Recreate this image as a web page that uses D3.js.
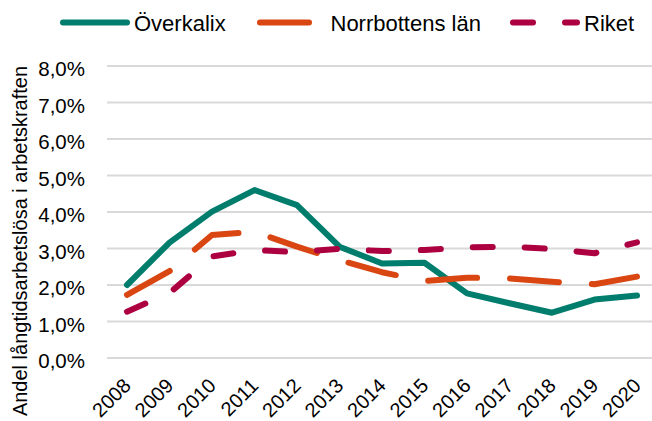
<!DOCTYPE html>
<html>
<head>
<meta charset="utf-8">
<script src="https://cdn.jsdelivr.net/npm/d3@7/dist/d3.min.js"></script>
<style>
  html, body { margin: 0; padding: 0; background: #fff; }
  svg { display: block; font-family: "Liberation Sans", Arial, sans-serif; }
</style>
</head>
<body>
<svg id="chart" width="652" height="421"></svg>
<script>
// ---- data ----
const years = ["2008","2009","2010","2011","2012","2013","2014","2015","2016","2017","2018","2019","2020"];
const overkalix = [2.00, 3.16, 4.01, 4.60, 4.19, 3.05, 2.59, 2.61, 1.77, 1.50, 1.24, 1.60, 1.71];
const norrbotten = [1.73, 2.38, 3.37, 3.46, 3.05, 2.68, 2.35, 2.11, 2.20, 2.18, 2.09, 2.02, 2.23];
const riket = [1.27, 1.78, 2.78, 2.96, 2.90, 2.99, 2.93, 2.96, 3.03, 3.05, 2.99, 2.87, 3.17];
const yTicks = [0, 1, 2, 3, 4, 5, 6, 7, 8];
const seriesNames = ["Överkalix", "Norrbottens län", "Riket"];
const yTitle = "Andel långtidsarbetslösa i arbetskraften";

// ---- styles ----
const colors = ["#007D6C", "#D94612", "#AC0040"];
const dashes = [null, "49,33", "20,32"];
const lw = 6;

const svg = d3.select("#chart");
const x = d3.scalePoint().domain(years).range([127, 637]);
const y = d3.scaleLinear().domain([0, 8]).range([358, 66]);
const fmt = v => d3.format(".1f")(v).replace(".", ",") + "%";

// gridlines
svg.append("g").selectAll("line").data(yTicks).join("line")
  .attr("x1", 107).attr("x2", 660)
  .attr("y1", d => y(d)).attr("y2", d => y(d))
  .attr("stroke", "#D9D9D9").attr("stroke-width", 2);

// y tick labels
svg.append("g").selectAll("text").data(yTicks).join("text")
  .attr("x", 85).attr("y", d => y(d) + 10)
  .attr("text-anchor", "end")
  .attr("font-size", "20.5px").attr("fill", "#000")
  .text(fmt);

// x tick labels
svg.append("g").selectAll("text").data(years).join("text")
  .attr("transform", d => `translate(${x(d) + 5},387) rotate(-45)`)
  .attr("text-anchor", "end")
  .attr("font-size", "20px").attr("fill", "#000")
  .text(d => d);

// y axis title
svg.append("text")
  .attr("transform", "translate(27,241) rotate(-90)")
  .attr("text-anchor", "middle")
  .attr("font-size", "20px").attr("fill", "#000")
  .text(yTitle);

// lines
const line = d3.line().x((d, i) => x(years[i])).y(d => y(d));
[overkalix, norrbotten, riket].forEach((s, k) => {
  svg.append("path").datum(s)
    .attr("d", line)
    .attr("fill", "none")
    .attr("stroke", colors[k])
    .attr("stroke-width", lw)
    .attr("stroke-linecap", "round")
    .attr("stroke-linejoin", "round")
    .attr("stroke-dasharray", dashes[k]);
});

// legend
const legX = [63, 260, 513];
const leg = svg.append("g");
seriesNames.forEach((n, k) => {
  leg.append("line")
    .attr("x1", legX[k]).attr("x2", legX[k] + 64)
    .attr("y1", 22.5).attr("y2", 22.5)
    .attr("stroke", colors[k]).attr("stroke-width", lw)
    .attr("stroke-linecap", "round")
    .attr("stroke-dasharray", dashes[k]);
  leg.append("text")
    .attr("x", legX[k] + (k === 1 ? 70.5 : 71)).attr("y", 31)
    .attr("font-size", "22px").attr("fill", "#000")
    .text(n);
});
</script>
</body>
</html>
